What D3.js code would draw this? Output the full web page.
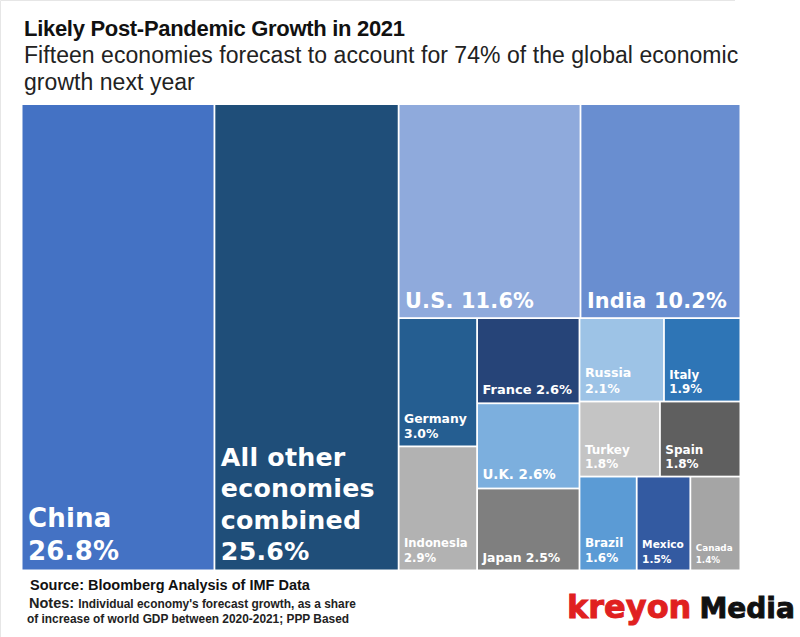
<!DOCTYPE html>
<html>
<head>
<meta charset="utf-8">
<script src="https://cdn.jsdelivr.net/npm/d3@7"></script>
<style>
  html, body { margin: 0; padding: 0; background: #fff; }
  svg { display: block; }
  .tile-label { fill: #fff; font-family: "DejaVu Sans", sans-serif; font-weight: 700; }
</style>
</head>
<body>
<div id="container"></div>
<script>
// share of forecast growth, in percent
const economies = ["China", "All other economies combined", "U.S.", "India", "Germany", "Indonesia",
    "France", "U.K.", "Japan", "Russia", "Italy", "Turkey", "Spain", "Brazil", "Mexico", "Canada"];
const shares = [26.8, 25.6, 11.6, 10.2, 3.0, 2.9, 2.6, 2.6, 2.5, 2.1, 1.9, 1.8, 1.8, 1.6, 1.5, 1.4];
const shareLabels = ["26.8%", "25.6%", "11.6%", "10.2%", "3.0%", "2.9%", "2.6%", "2.6%", "2.5%", "2.1%",
    "1.9%", "1.8%", "1.8%", "1.6%", "1.5%", "1.4%"];

// how the economies are packed: nested groups, alternating direction
const topRow = ["U.S.", "India"];
const firstColumn = ["Germany", "Indonesia"];
const secondColumn = ["France", "U.K.", "Japan"];
const rowA = ["Russia", "Italy"];
const rowB = ["Turkey", "Spain"];
const rowC = ["Brazil", "Mexico", "Canada"];

const tileColors = ["#4472c4", "#1f4e79", "#8faadc", "#698ed0", "#255e91", "#b2b2b2", "#264478", "#7cafde",
    "#7f7f7f", "#9dc3e6", "#2e75b6", "#c4c4c4", "#5f5f5f", "#5b9bd5", "#335aa1", "#a5a5a5"];
const tileFontSizes = [26, 25.3, 20.8, 20.8, 12.4, 11.6, 13, 13.4, 12.4, 12.6, 11.8, 12, 12, 12, 10.6, 8.8];
const tileLineHeights = [33, 31.5, 0, 0, 15, 15, 0, 0, 0, 15.5, 14, 14.5, 14.5, 14.5, 14.5, 12];
const oneLine = ["U.S.", "India", "France", "U.K.", "Japan"];
const wrapped = { "All other economies combined": ["All other", "economies", "combined"] };

const width = 800, height = 637;
const svg = d3.select("#container").append("svg").attr("width", width).attr("height", height);

svg.append("path").attr("d", "M0.5,637V0.5H735").attr("fill", "none").attr("stroke", "#e6e6e6");

let leaf = name => ({ name, value: shares[economies.indexOf(name)] });
let row = names => ({ dir: "dice", children: names.map(leaf) });
let column = names => ({ dir: "slice", children: names.map(leaf) });

const tree = {
    dir: "dice",
    children: [
        leaf("China"),
        leaf("All other economies combined"),
        {
            dir: "slice",
            children: [
                row(topRow),
                {
                    dir: "dice",
                    children: [
                        column(firstColumn),
                        column(secondColumn),
                        { dir: "slice", children: [row(rowA), row(rowB), row(rowC)] }
                    ]
                }
            ]
        }
    ]
};

const root = d3.hierarchy(tree).sum(d => d.value || 0);
d3.treemap()
    .tile((node, x0, y0, x1, y1) => {
        let tile = node.data.dir == "slice" ? d3.treemapSlice : d3.treemapDice;
        tile(node, x0, y0, x1, y1);
    })
    .size([717, 464.5])
    .paddingInner(1.8)
    .round(false)(root);

const cells = svg.append("g").attr("transform", "translate(22.5,105)")
    .selectAll("g").data(root.leaves()).join("g")
    .attr("transform", d => `translate(${d.x0},${d.y0})`);

cells.append("rect")
    .attr("width", d => d.x1 - d.x0)
    .attr("height", d => d.y1 - d.y0)
    .attr("fill", d => tileColors[economies.indexOf(d.data.name)]);

cells.each(function(d) {
    let i = economies.indexOf(d.data.name);
    let name = d.data.name;
    let lines;
    if(wrapped[name]) { lines = [...wrapped[name], shareLabels[i]]; }
    else if(oneLine.includes(name)) { lines = [`${name} ${shareLabels[i]}`]; }
    else { lines = [name, shareLabels[i]]; }

    let fs = tileFontSizes[i];
    let lh = tileLineHeights[i];
    let h = d.y1 - d.y0;
    let bottom = fs > 20 ? h - 9.5 : h - fs * 0.42 - 2.5;
    d3.select(this).selectAll("text").data(lines).join("text")
        .attr("class", "tile-label")
        .attr("x", fs > 20 ? 5.5 : 4.5)
        .attr("y", (l, k) => bottom - (lines.length - 1 - k) * lh)
        .attr("font-size", fs)
        .attr("letter-spacing", fs > 20 ? 0.2 : 0)
        .text(l => l);
});

// header
let sans = '"Liberation Sans", Arial, sans-serif';
svg.append("text").attr("x", 24).attr("y", 36).attr("font-family", sans).attr("font-weight", 700)
    .attr("font-size", 22).attr("letter-spacing", -0.3).attr("fill", "#111").text("Likely Post-Pandemic Growth in 2021");
svg.append("text").attr("x", 24).attr("y", 63).attr("font-family", sans)
    .attr("font-size", 23).attr("letter-spacing", 0.05).attr("fill", "#222").text("Fifteen economies forecast to account for 74% of the global economic");
svg.append("text").attr("x", 24).attr("y", 90).attr("font-family", sans)
    .attr("font-size", 23).attr("letter-spacing", 0.05).attr("fill", "#222").text("growth next year");

// footer
svg.append("text").attr("x", 30).attr("y", 589.5).attr("font-family", sans).attr("font-weight", 700)
    .attr("font-size", 14.5).attr("fill", "#111").text("Source: Bloomberg Analysis of IMF Data");
let notes = svg.append("text").attr("x", 29).attr("y", 608).attr("font-family", sans).attr("font-weight", 700).attr("fill", "#222");
notes.append("tspan").attr("font-size", 14.5).text("Notes: ");
notes.append("tspan").attr("font-size", 11.9).text("Individual economy's forecast growth, as a share");
svg.append("text").attr("x", 27).attr("y", 623).attr("font-family", sans).attr("font-weight", 700)
    .attr("font-size", 11.9).attr("fill", "#222").text("of increase of world GDP between 2020-2021; PPP Based");

// logo
let logo = svg.append("text").attr("x", 567).attr("y", 618).attr("font-family", '"DejaVu Sans", sans-serif').attr("font-weight", 700).attr("stroke-width", 0.9);
logo.append("tspan").attr("fill", "#e02020").attr("stroke", "#e02020").attr("font-size", 32).text("kreyon");
logo.append("tspan").attr("fill", "#111").attr("stroke", "#111").attr("font-size", 28).attr("dx", 8).text("Media");
</script>
</body>
</html>
